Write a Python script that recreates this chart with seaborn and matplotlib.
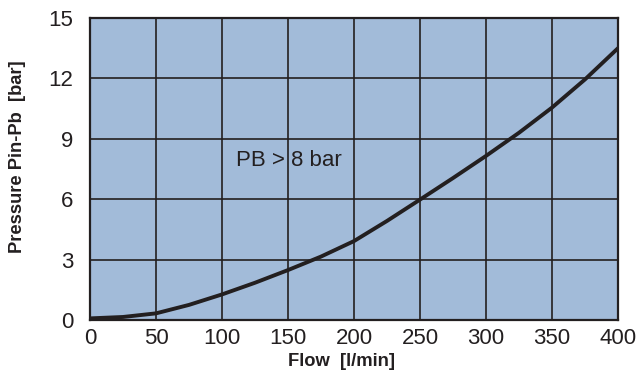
import matplotlib
matplotlib.use("Agg")
import matplotlib.pyplot as plt
import seaborn as sns
import pandas as pd

flow = [0, 25, 50, 75, 100, 125, 150, 175, 200, 225, 250, 275, 300, 325, 350, 375, 400]
pressure = [0.08, 0.15, 0.33, 0.75, 1.27, 1.85, 2.48, 3.15, 3.92, 4.92, 5.98, 7.05, 8.15, 9.3, 10.55, 11.95, 13.5]
x_ticks = [0, 50, 100, 150, 200, 250, 300, 350, 400]
y_ticks = [0, 3, 6, 9, 12, 15]
annotation = "PB > 8 bar"

df = pd.DataFrame({"flow": flow, "pressure": pressure})

sns.set_style("white")
plt.rcParams['font.family'] = ['Liberation Sans', 'DejaVu Sans']

ink = "#231f20"
fig = plt.figure(figsize=(6.38, 3.74), dpi=100)
ax = fig.add_axes([90/638, 1 - 320/374, 528/638, 302/374])
ax.set_facecolor("#a2bbd9")

sns.lineplot(data=df, x="flow", y="pressure", ax=ax, color=ink, linewidth=2.8, zorder=3)

ax.set_xlim(0, 400)
ax.set_ylim(0, 15)
ax.set_xticks(x_ticks)
ax.set_yticks(y_ticks)
ax.grid(True, color=ink, linewidth=1.2)
ax.set_axisbelow(True)
for s in ax.spines.values():
    s.set_color(ink)
    s.set_linewidth(1.6)
    s.set_visible(True)
ax.tick_params(length=0, labelsize=16, colors=ink, pad=6)
ax.tick_params(axis='y', pad=12)

ax.set_xlabel("Flow  [l/min]", fontsize=13.2, fontweight="bold", color=ink)
ax.set_ylabel("Pressure Pin-Pb  [bar]", fontsize=13.2, fontweight="bold", color=ink)
ax.xaxis.set_label_coords((342 - 90) / 528, -(362 - 320) / 302)
ax.yaxis.set_label_coords(-(90 - 18) / 528, (320 - 157) / 302)
ax.xaxis.label.set_va("center")
ax.yaxis.label.set_va("center")

ax.text(151, 7.9, annotation, fontsize=16, color=ink, ha="center", va="center")

fig.savefig("out.png", dpi=100)
